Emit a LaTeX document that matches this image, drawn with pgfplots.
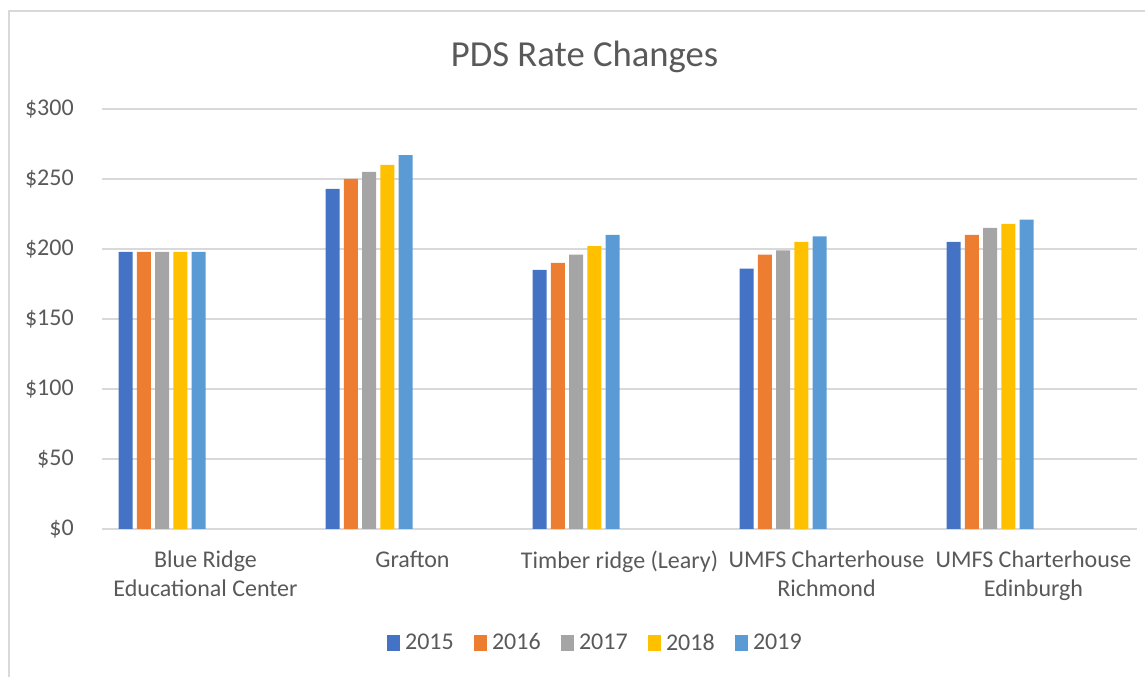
\documentclass[border=0pt]{standalone}
\usepackage{pgfplots}
\pgfplotsset{compat=1.18}
\usepackage{fontspec}
\setmainfont{Carlito}
\definecolor{c1}{HTML}{4472C4}
\definecolor{c2}{HTML}{ED7D31}
\definecolor{c3}{HTML}{A5A5A5}
\definecolor{c4}{HTML}{FFC000}
\definecolor{c5}{HTML}{5B9BD5}
\definecolor{txt}{HTML}{595959}
\definecolor{gridc}{HTML}{D9D9D9}
\begin{document}
\begin{tikzpicture}
\path[use as bounding box] (0,0) rectangle (858.75pt,507.75pt);
\draw[gridc, line width=1.5pt] (6.4pt,0) -- (6.4pt,499.65pt) -- (858.75pt,499.65pt);
\node[anchor=base, font=\fontsize{27.5}{33}\selectfont, text=txt] at (438.4pt,457.7pt) {PDS Rate Changes};
\begin{axis}[
  at={(76.5pt,111pt)}, anchor=south west,
  scale only axis, width=776.25pt, height=315pt,
  xmin=-0.5, xmax=4.5, ymin=0, ymax=300,
  axis line style={draw=none},
  major tick length=0pt,
  ymajorgrids, xmajorgrids=false, grid style={color=gridc, line width=0.9pt},
  ytick={0,50,100,150,200,250,300},
  yticklabels={{\$0},{\$50},{\$100},{\$150},{\$200},{\$250},{\$300}},
  yticklabel style={anchor=east, inner sep=0pt, xshift=-21pt, font=\fontsize{18}{21.75}\selectfont, text=txt},
  xtick={0,1,2,3,4},
  xticklabels={{Blue Ridge\\Educational Center},{Grafton},{Timber ridge (Leary)},{UMFS Charterhouse\\Richmond},{UMFS Charterhouse\\Edinburgh}},
  xticklabel style={anchor=north, inner sep=0pt, yshift=-16.4pt, align=center, font=\fontsize{18}{21.75}\selectfont, text=txt},
  legend style={at={(0.478,-0.271)}, anchor=center, draw=none, fill=none,
    legend columns=-1, font=\fontsize{18}{21.75}\selectfont, text=txt,
    nodes={inner xsep=3.75pt, inner ysep=1pt},
    /tikz/every even column/.append style={column sep=11.25pt}},
  legend image code/.code={\fill[#1] (0pt,-6pt) rectangle (10pt,6pt);},
]
\addplot[ybar, bar shift=-60pt, bar width=10.5pt, fill=c1, draw=none] coordinates {(0,198) (1,243) (2,185) (3,186) (4,205)};
\addplot[ybar, bar shift=-46.3125pt, bar width=10.5pt, fill=c2, draw=none] coordinates {(0,198) (1,250) (2,190) (3,196) (4,210)};
\addplot[ybar, bar shift=-32.625pt, bar width=10.5pt, fill=c3, draw=none] coordinates {(0,198) (1,255) (2,196) (3,199) (4,215)};
\addplot[ybar, bar shift=-18.9375pt, bar width=10.5pt, fill=c4, draw=none] coordinates {(0,198) (1,260) (2,202) (3,205) (4,218)};
\addplot[ybar, bar shift=-5.25pt, bar width=10.5pt, fill=c5, draw=none] coordinates {(0,198) (1,267) (2,210) (3,209) (4,221)};
\legend{2015,2016,2017,2018,2019}
\end{axis}
\end{tikzpicture}
\end{document}
